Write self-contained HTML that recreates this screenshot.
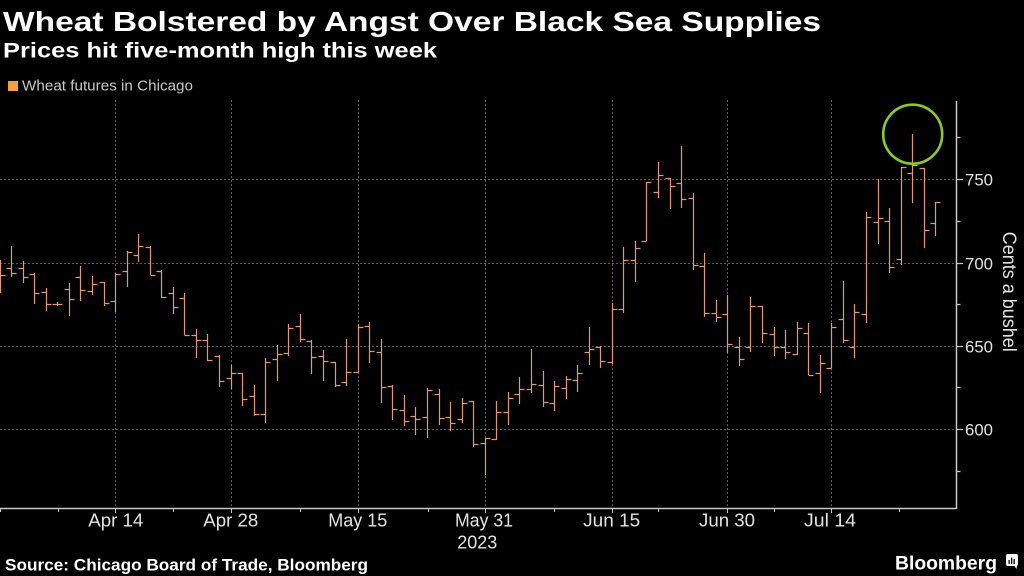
<!DOCTYPE html>
<html>
<head>
<meta charset="utf-8">
<style>
html,body{margin:0;padding:0;background:#000;}
svg{display:block;}
text{font-family:"Liberation Sans",sans-serif;}
</style>
</head>
<body>
<svg width="1024" height="576" viewBox="0 0 1024 576" xmlns="http://www.w3.org/2000/svg">
<rect x="0" y="0" width="1024" height="576" fill="#000"/>

<text x="3" y="31" font-size="28" font-weight="bold" fill="#ffffff" textLength="818" lengthAdjust="spacingAndGlyphs">Wheat Bolstered by Angst Over Black Sea Supplies</text>
<text x="3" y="57.5" font-size="21" font-weight="bold" fill="#ffffff" textLength="434" lengthAdjust="spacingAndGlyphs">Prices hit five-month high this week</text>

<rect x="8" y="81" width="10" height="10" fill="#f5a13f"/>
<text x="22" y="90.5" font-size="15" fill="#c8c8c8" textLength="171" lengthAdjust="spacingAndGlyphs">Wheat futures in Chicago</text>

<g stroke="#5a5a5a" stroke-width="1" stroke-dasharray="2,2" fill="none">
<path d="M0 179.5H956M0 263.5H956M0 346.5H956M0 429.5H956"/>
<path d="M115.5 100V512M231.5 100V512M358.5 100V512M485.5 100V512M612.5 100V512M727.5 100V512M831.5 100V512"/>
</g>

<path fill="none" stroke="#e39c5c" stroke-width="1.2" d="M0.5 260V293M-4.5 268.5H0.5M0.5 275.5H5.5 M11.5 246V277M6.5 268.5H11.5M11.5 273.5H16.5 M23.5 261V283M18.5 268.5H23.5M23.5 277.5H28.5 M34.5 273V304M29.5 274.5H34.5M34.5 293.5H39.5 M46.5 288V311M41.5 292.5H46.5M46.5 304.5H51.5 M57.5 302V306M52.5 304.5H57.5M57.5 304.5H62.5 M69.5 283V316M64.5 289.5H69.5M69.5 299.5H74.5 M80.5 266V301M75.5 277.5H80.5M80.5 290.5H85.5 M92.5 276V295M87.5 291.5H92.5M92.5 284.5H97.5 M104.5 282V306M99.5 282.5H104.5M104.5 303.5H109.5 M115.5 273V312M110.5 301.5H115.5M115.5 274.5H120.5 M127.5 251V287M122.5 271.5H127.5M127.5 252.5H132.5 M138.5 234V262M133.5 255.5H138.5M138.5 246.5H143.5 M150.5 246V275M145.5 247.5H150.5M150.5 275.5H155.5 M161.5 270V298M156.5 271.5H161.5M161.5 297.5H166.5 M173.5 287V314M168.5 293.5H173.5M173.5 307.5H178.5 M184.5 293V335M179.5 298.5H184.5M184.5 335.5H189.5 M196.5 329V358M191.5 335.5H196.5M196.5 340.5H201.5 M207.5 334V361M202.5 340.5H207.5M207.5 360.5H212.5 M219.5 355V387M214.5 356.5H219.5M219.5 381.5H224.5 M231.5 365V389M226.5 378.5H231.5M231.5 373.5H236.5 M242.5 373V406M237.5 373.5H242.5M242.5 399.5H247.5 M254.5 385V416M249.5 396.5H254.5M254.5 414.5H259.5 M265.5 358V423M260.5 414.5H265.5M265.5 362.5H270.5 M277.5 345V381M272.5 359.5H277.5M277.5 354.5H282.5 M288.5 324V356M283.5 353.5H288.5M288.5 328.5H293.5 M300.5 314V342M295.5 326.5H300.5M300.5 339.5H305.5 M311.5 340V374M306.5 341.5H311.5M311.5 357.5H316.5 M323.5 350V381M318.5 356.5H323.5M323.5 361.5H328.5 M335.5 362V387M330.5 362.5H335.5M335.5 385.5H340.5 M346.5 339V386M341.5 382.5H346.5M346.5 372.5H351.5 M358.5 324V372M353.5 372.5H358.5M358.5 327.5H363.5 M369.5 322V363M364.5 326.5H369.5M369.5 351.5H374.5 M381.5 339V403M376.5 352.5H381.5M381.5 387.5H386.5 M392.5 385V420M387.5 386.5H392.5M392.5 409.5H397.5 M404.5 395V426M399.5 410.5H404.5M404.5 421.5H409.5 M415.5 407V435M410.5 416.5H415.5M415.5 419.5H420.5 M427.5 388V438M422.5 417.5H427.5M427.5 390.5H432.5 M439.5 389V425M434.5 394.5H439.5M439.5 418.5H444.5 M450.5 402V431M445.5 417.5H450.5M450.5 423.5H455.5 M462.5 398V423M457.5 419.5H462.5M462.5 403.5H467.5 M473.5 401V447M468.5 401.5H473.5M473.5 444.5H478.5 M485.5 438V475M480.5 443.5H485.5M485.5 438.5H490.5 M496.5 401V440M491.5 439.5H496.5M496.5 412.5H501.5 M508.5 392V425M503.5 412.5H508.5M508.5 398.5H513.5 M519.5 377V404M514.5 394.5H519.5M519.5 389.5H524.5 M531.5 349V393M526.5 389.5H531.5M531.5 384.5H536.5 M543.5 371V407M538.5 385.5H543.5M543.5 402.5H548.5 M554.5 381V411M549.5 403.5H554.5M554.5 386.5H559.5 M566.5 376V399M561.5 388.5H566.5M566.5 379.5H571.5 M577.5 365V392M572.5 380.5H577.5M577.5 373.5H582.5 M589.5 327V365M584.5 352.5H589.5M589.5 349.5H594.5 M600.5 346V368M595.5 347.5H600.5M600.5 361.5H605.5 M612.5 303V364M607.5 362.5H612.5M612.5 309.5H617.5 M623.5 247V313M618.5 309.5H623.5M623.5 260.5H628.5 M635.5 241V282M630.5 260.5H635.5M635.5 248.5H640.5 M646.5 182V241M641.5 241.5H646.5M646.5 182.5H651.5 M658.5 162V198M653.5 192.5H658.5M658.5 175.5H663.5 M670.5 178V209M665.5 178.5H670.5M670.5 186.5H675.5 M681.5 146V208M676.5 183.5H681.5M681.5 199.5H686.5 M693.5 193V270M688.5 198.5H693.5M693.5 265.5H698.5 M704.5 253V317M699.5 266.5H704.5M704.5 313.5H709.5 M716.5 300V322M711.5 313.5H716.5M716.5 317.5H721.5 M727.5 295V353M722.5 314.5H727.5M727.5 344.5H732.5 M739.5 337V366M734.5 347.5H739.5M739.5 359.5H744.5 M750.5 297V352M745.5 347.5H750.5M750.5 306.5H755.5 M762.5 306V343M757.5 306.5H762.5M762.5 333.5H767.5 M774.5 327V356M769.5 334.5H774.5M774.5 347.5H779.5 M785.5 330V359M780.5 347.5H785.5M785.5 352.5H790.5 M797.5 322V355M792.5 354.5H797.5M797.5 328.5H802.5 M808.5 323V375M803.5 333.5H808.5M808.5 375.5H813.5 M820.5 355V393M815.5 373.5H820.5M820.5 363.5H825.5 M831.5 323V368M826.5 368.5H831.5M831.5 327.5H836.5 M843.5 281V343M838.5 319.5H843.5M843.5 340.5H848.5 M854.5 304V358M849.5 347.5H854.5M854.5 312.5H859.5 M866.5 212V323M861.5 314.5H866.5M866.5 217.5H871.5 M878.5 179V244M873.5 222.5H878.5M878.5 218.5H883.5 M889.5 208V273M884.5 221.5H889.5M889.5 267.5H894.5 M901.5 167V265M896.5 259.5H901.5M901.5 167.5H906.5 M912.5 134V203M907.5 173.5H912.5M912.5 165.5H917.5 M924.5 168V248M919.5 168.5H924.5M924.5 230.5H929.5 M935.5 202V236M930.5 223.5H935.5M935.5 202.5H940.5"/>

<circle cx="912.7" cy="134.2" r="29.5" fill="none" stroke="#8ccc1e" stroke-width="2.6"/>

<g stroke="#c8c8c8" fill="none">
<path d="M0 508.5H956.5M956.5 101V509" stroke-width="1.5"/>
<path d="M956.5 179.5H963M956.5 263.5H963M956.5 346.5H963M956.5 429.5H963" stroke-width="1.2"/>
<path d="M956.5 137.5H960.5M956.5 221.5H960.5M956.5 304.5H960.5M956.5 387.5H960.5M956.5 471.5H960.5" stroke-width="1.2"/>
<path d="M0.5 508V512M58.5 508V512M173.5 508V512M300.5 508V512M428.5 508V512M554.5 508V512M658.5 508V512M774.5 508V512M899.5 508V512" stroke-width="1"/>
<path d="M115.5 508V513M231.5 508V513M358.5 508V513M485.5 508V513M612.5 508V513M727.5 508V513M831.5 508V513" stroke-width="1"/>
</g>

<g font-size="17" fill="#e2e2e2">
<text x="965" y="185.7" textLength="28" lengthAdjust="spacingAndGlyphs">750</text>
<text x="965" y="269.7" textLength="28" lengthAdjust="spacingAndGlyphs">700</text>
<text x="965" y="352.7" textLength="28" lengthAdjust="spacingAndGlyphs">650</text>
<text x="965" y="435.7" textLength="28" lengthAdjust="spacingAndGlyphs">600</text>
</g>
<text x="1003" y="291.7" font-size="19" fill="#e2e2e2" text-anchor="middle" textLength="120" lengthAdjust="spacingAndGlyphs" transform="rotate(90 1003 291.7)">Cents a bushel</text>

<g font-size="18" fill="#e2e2e2" text-anchor="middle">
<text x="115.8" y="526.7" textLength="55" lengthAdjust="spacingAndGlyphs">Apr 14</text>
<text x="230.8" y="526.7" textLength="55" lengthAdjust="spacingAndGlyphs">Apr 28</text>
<text x="357.8" y="526.7" textLength="59" lengthAdjust="spacingAndGlyphs">May 15</text>
<text x="484" y="526.7" textLength="58" lengthAdjust="spacingAndGlyphs">May 31</text>
<text x="477.3" y="548.3" textLength="40" lengthAdjust="spacingAndGlyphs">2023</text>
<text x="611.7" y="526.7" textLength="57" lengthAdjust="spacingAndGlyphs">Jun 15</text>
<text x="727" y="526.7" textLength="56" lengthAdjust="spacingAndGlyphs">Jun 30</text>
<text x="830" y="526.7" textLength="52" lengthAdjust="spacingAndGlyphs">Jul 14</text>
</g>

<text x="5" y="570.5" font-size="17" font-weight="bold" fill="#ffffff" textLength="363" lengthAdjust="spacingAndGlyphs">Source: Chicago Board of Trade, Bloomberg</text>

<text x="895" y="569.3" font-size="19" font-weight="bold" fill="#ffffff" textLength="102" lengthAdjust="spacingAndGlyphs">Bloomberg</text>
<rect x="1006" y="554" width="12" height="12" rx="2" fill="#ffffff"/>
<path d="M1014 565.5L1016.5 569L1017 565.5Z" fill="#ffffff"/>
<g fill="#000">
<rect x="1008.5" y="560" width="1.3" height="4"/>
<rect x="1011" y="557.5" width="1.3" height="6.5"/>
<rect x="1013.5" y="559" width="1.3" height="5"/>
</g>
</svg>
</body>
</html>
